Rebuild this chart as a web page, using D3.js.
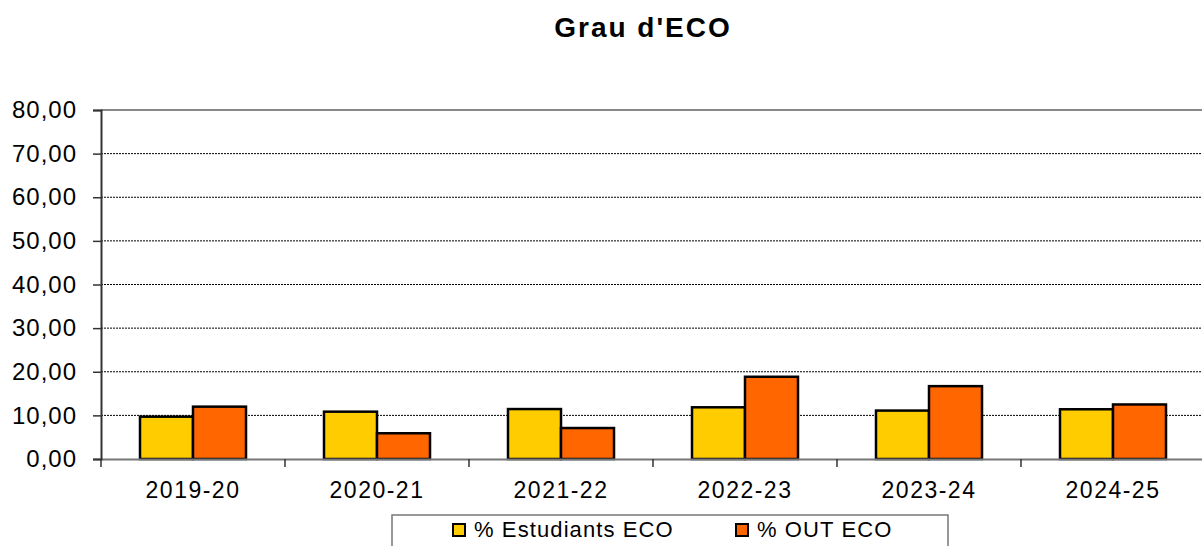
<!DOCTYPE html>
<html>
<head>
<meta charset="utf-8">
<script src="https://cdn.jsdelivr.net/npm/d3@7"></script>
<style>
  body { margin: 0; background: #fff; }
  svg { display: block; font-family: "Liberation Sans", Arial, sans-serif; }
  .grid line { stroke: #000; stroke-dasharray: 2,1; stroke-width: 1; }
</style>
</head>
<body>
<script>
// chart data
var years = ["2019-20", "2020-21", "2021-22", "2022-23", "2023-24", "2024-25"];
var estudiantsEco = [9.7, 10.85, 11.45, 11.85, 11.1, 11.4];
var outEco = [12.0, 5.9, 7.1, 18.85, 16.7, 12.5];
var seriesNames = ["% Estudiants ECO", "% OUT ECO"];
var seriesColors = ["#FFCC00", "#FF6600"];
var yTicks = [0, 10, 20, 30, 40, 50, 60, 70, 80];

var W = 1202, H = 546;
var margin = {top: 110, left: 101, bottom: 87};
var plotW = 6 * 184, plotH = H - margin.top - margin.bottom;

var svg = d3.select("body").append("svg")
    .attr("width", W)
    .attr("height", H);

// title
svg.append("text")
    .attr("x", 643).attr("y", 37)
    .attr("text-anchor", "middle")
    .style("font-size", "28px").style("font-weight", "bold")
    .style("letter-spacing", "2px")
    .text("Grau d'ECO");

var g = svg.append("g")
    .attr("transform", "translate(" + margin.left + "," + margin.top + ")");

var x = d3.scaleBand().domain(years).range([0, plotW]);
var x1 = d3.scaleBand().domain([0, 1]).range([0, 106]);
var y = d3.scaleLinear().domain([0, 80]).range([plotH, 0]);

// gridlines
g.append("g").attr("class", "grid")
  .selectAll("line")
  .data(yTicks.filter(function(d) { return d > 0 && d < 80; }))
  .enter().append("line")
    .attr("x1", 0).attr("x2", plotW)
    .attr("y1", function(d) { return y(d); })
    .attr("y2", function(d) { return y(d); });

// top border
g.append("line")
    .attr("x1", 0).attr("x2", plotW)
    .attr("y1", 0).attr("y2", 0)
    .attr("stroke", "#888").attr("stroke-width", 2);

// bars
var rows = years.map(function(d, i) { return {year: d, vals: [estudiantsEco[i], outEco[i]]}; });
var groups = g.selectAll(".grp")
    .data(rows)
  .enter().append("g")
    .attr("transform", function(d) { return "translate(" + (x(d.year) + (x.bandwidth() - 106) / 2) + ",0)"; });

groups.selectAll("rect")
    .data(function(d) { return d.vals.map(function(v, j) { return {v: v, j: j}; }); })
  .enter().append("rect")
    .attr("x", function(d) { return x1(d.j); })
    .attr("width", x1.bandwidth())
    .attr("y", function(d) { return y(d.v); })
    .attr("height", function(d) { return plotH - y(d.v); })
    .attr("fill", function(d) { return seriesColors[d.j]; })
    .attr("stroke", "#000").attr("stroke-width", 2.5);

// X axis
var xAxis = g.append("g")
    .attr("transform", "translate(0," + plotH + ")")
    .call(d3.axisBottom(x).tickSize(0).tickPadding(23));
xAxis.select(".domain").attr("stroke", "#777").attr("stroke-width", 2);
xAxis.selectAll("text")
    .style("font-size", "23px").style("letter-spacing", "1.5px")
    .attr("fill", "#000");
xAxis.selectAll(".sep")
    .data(d3.range(0, years.length + 1))
  .enter().append("line")
    .attr("x1", function(d) { return d * x.step(); })
    .attr("x2", function(d) { return d * x.step(); })
    .attr("y1", 0).attr("y2", 8)
    .attr("stroke", "#333").attr("stroke-width", 1.5);

// Y axis
var yAxis = g.append("g")
    .call(d3.axisLeft(y).tickValues(yTicks).tickSize(8).tickPadding(16)
      .tickFormat(function(d) { return d3.format(".2f")(d).replace(".", ","); }));
yAxis.select(".domain").attr("stroke", "#333").attr("stroke-width", 2);
yAxis.selectAll(".tick line").attr("stroke", "#333").attr("stroke-width", 1.5);
yAxis.selectAll("text")
    .style("font-size", "24px").style("letter-spacing", "1px")
    .attr("fill", "#000");

// legend
var leg = svg.append("g");
leg.append("rect")
    .attr("x", 392).attr("y", 515)
    .attr("width", 556).attr("height", 40)
    .attr("fill", "#fff").attr("stroke", "#777").attr("stroke-width", 1.5);
var legX = [453, 736];
seriesNames.forEach(function(name, i) {
  leg.append("rect")
      .attr("x", legX[i]).attr("y", 524)
      .attr("width", 12).attr("height", 12)
      .attr("fill", seriesColors[i]).attr("stroke", "#000").attr("stroke-width", 2);
  leg.append("text")
      .attr("x", legX[i] + 21).attr("y", 537)
      .style("font-size", "22px").style("letter-spacing", "1.1px")
      .text(name);
});
</script>
</body>
</html>
